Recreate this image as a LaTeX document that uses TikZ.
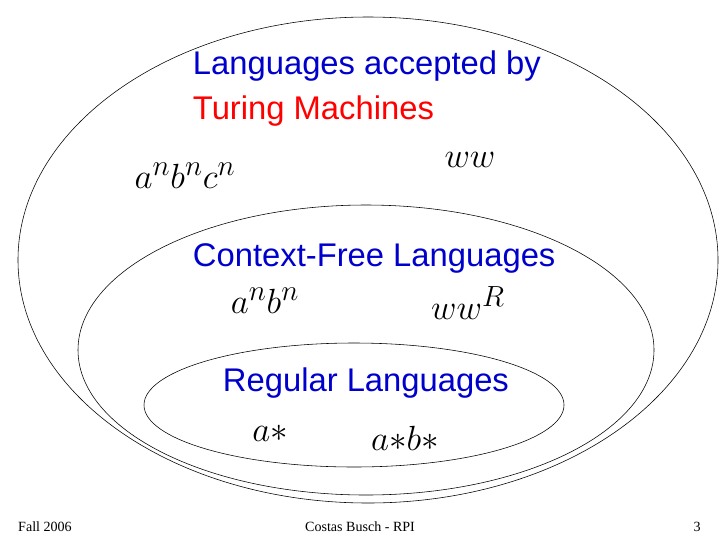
\documentclass[tikz,border=0pt]{standalone}
\usepackage{fontspec}
\setsansfont{Liberation Sans}
\newfontfamily\footfont{Liberation Serif}
\definecolor{lang-blue}{HTML}{0000CC}
\tikzset{title/.style = {anchor=west, font=\sffamily\fontsize{23.3}{27}\selectfont}}
\tikzset{word/.style = {font=\fontsize{28}{32}\selectfont}}
\tikzset{foot/.style = {font=\footfont\fontsize{10}{12}\selectfont}}
\begin{document}
\begin{tikzpicture}[x=0.025cm, y=-0.025cm]
\useasboundingbox (0,0) rectangle (720,540);

% nested classes
\draw (368,260) ellipse [x radius=350, y radius=243];
\draw (366,350) ellipse [x radius=288, y radius=145];
\draw (354,405) ellipse [x radius=210, y radius=62];

\node[title, text=lang-blue] (tm1) at (188,66) {Languages accepted by};
\node[title, text=red] (tm2) at (188,111) {Turing Machines};
\node[word] (anbncn) at (185,176) {$a^nb^nc^n$};
\node[word] (ww) at (470,160) {$ww$};

\node[title, text=lang-blue] (cfl) at (188,258) {Context-Free Languages};
\node[word] (anbn) at (265,301) {$a^nb^n$};
\node[word] (wwr) at (468,303) {$ww^R$};

\node[title, text=lang-blue] (reg) at (218,383) {Regular Languages};
\node[word] (astar) at (270,433) {$a{*}$};
\node[word] (astarbstar) at (405,438) {$a{*}b{*}$};

\node[foot] (date) at (45,527) {Fall 2006};
\node[foot] (author) at (360,527) {Costas Busch - RPI};
\node[foot] (page) at (697,527) {3};
\end{tikzpicture}
\end{document}
